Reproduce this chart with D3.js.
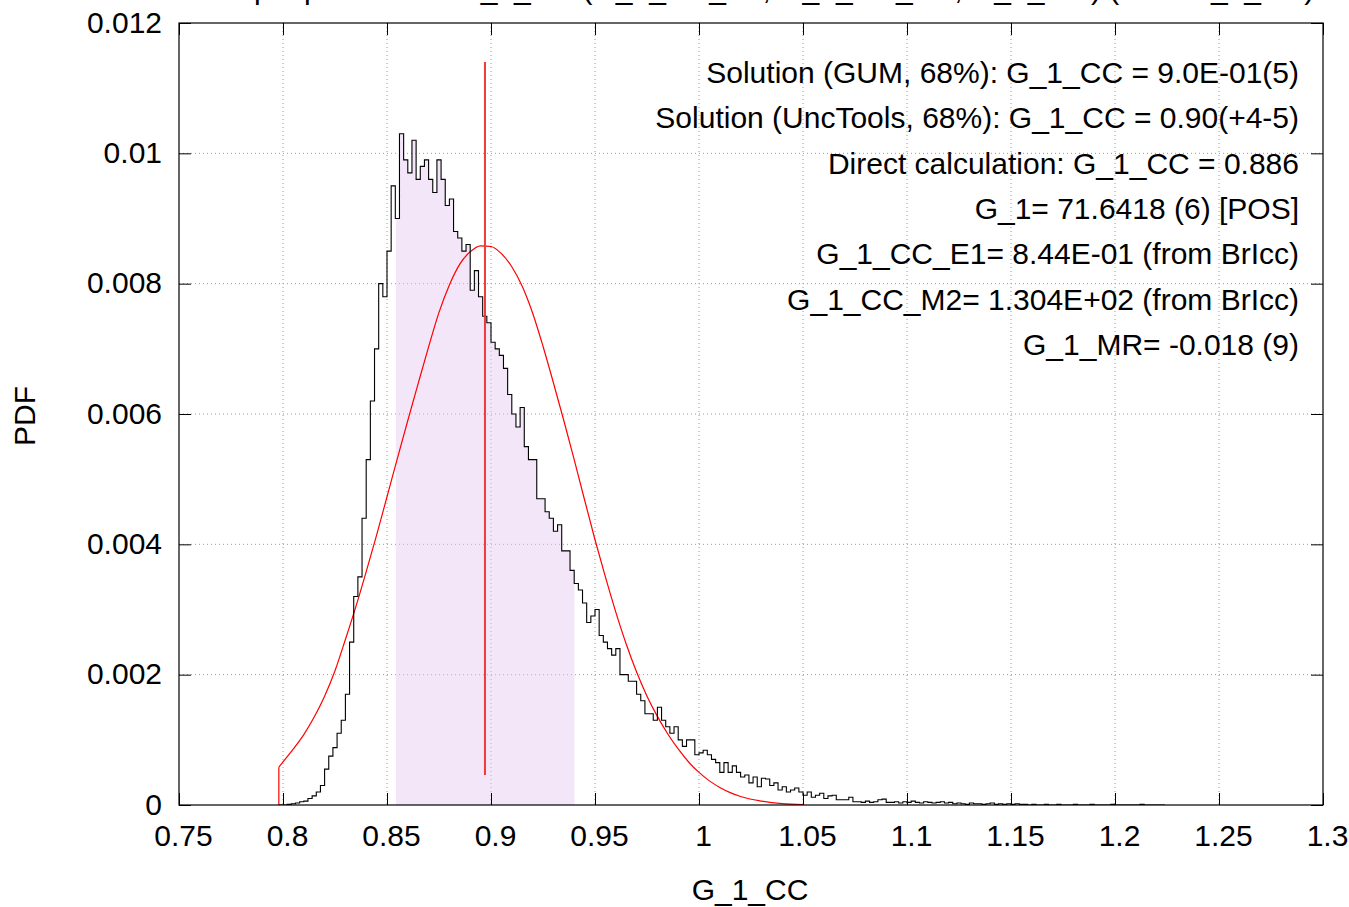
<!DOCTYPE html>
<html>
<head>
<meta charset="utf-8">
<script src="https://cdn.jsdelivr.net/npm/d3@7"></script>
<style>
  html, body { margin: 0; padding: 0; background: #fff; }
  svg { display: block; }
  text { font-family: "Liberation Sans", Arial, sans-serif; fill: #000; }
</style>
</head>
<body>
<svg id="chart" width="1349" height="907"></svg>
<script>
// ---------------- data ----------------
const xTicks = [0.75, 0.8, 0.85, 0.9, 0.95, 1, 1.05, 1.1, 1.15, 1.2, 1.25, 1.3];
const xTickLabels = ["0.75", "0.8", "0.85", "0.9", "0.95", "1", "1.05", "1.1", "1.15", "1.2", "1.25", "1.3"];
const yTicks = [0, 0.002, 0.004, 0.006, 0.008, 0.01, 0.012];
const yTickLabels = ["0", "0.002", "0.004", "0.006", "0.008", "0.01", "0.012"];

// histogram (Monte Carlo PDF), bins starting at histStart, width histBinWidth
const histStart = 0.798;
const histBinWidth = 0.002;
const histValues = [
  0, 0, 0.00001, 0.00002, 0.00003, 0.00005, 0.00006, 0.0001, 0.00014, 0.0002,
  0.0003, 0.00055, 0.00075, 0.00088, 0.0011, 0.0013, 0.0017, 0.0025, 0.0032, 0.0035,
  0.0044, 0.0053, 0.0062, 0.0070, 0.0080, 0.0078, 0.0085, 0.0095, 0.0090, 0.0103,
  0.0099, 0.0097, 0.0102, 0.0096, 0.0098, 0.0099, 0.0096, 0.0094, 0.0099, 0.0096,
  0.0092, 0.0093, 0.0088, 0.0087, 0.0085, 0.0086, 0.0079, 0.0082, 0.0078, 0.0075,
  0.0074, 0.0071, 0.0070, 0.0069, 0.0067, 0.0063, 0.0060, 0.0058, 0.0061, 0.0055,
  0.0053, 0.0053, 0.0047, 0.0047, 0.0045, 0.0044, 0.0042, 0.0043, 0.0039, 0.0039,
  0.0036, 0.0034, 0.0033, 0.0031, 0.0028, 0.0029, 0.0030, 0.0026, 0.0025, 0.0024,
  0.0023, 0.0024, 0.0020, 0.0020, 0.0019, 0.0019, 0.0017, 0.0016, 0.0014, 0.0014,
  0.0013, 0.0015, 0.0013, 0.0012, 0.0011, 0.0012, 0.0010, 0.0009, 0.0010, 0.0010,
  0.00077, 0.0008, 0.00084, 0.00077, 0.0007, 0.00065, 0.0005, 0.00065, 0.0005, 0.0006,
  0.0005, 0.00043, 0.00046, 0.00034, 0.00043, 0.00028, 0.00041, 0.0004, 0.0003, 0.00034,
  0.00023, 0.00028, 0.0002, 0.00023, 0.00026, 0.0002, 0.00015, 0.0002, 0.00012, 0.00015,
  0.00018, 0.0001, 0.00014, 0.00015, 0.00008, 0.00008, 0.00008, 0.00012, 0.00005, 0.00005,
  0.00004, 0.00006, 0.00004, 0.00005, 0.00008, 0.00009, 0.00004, 0.00004, 0.00005, 0.00003,
  0.00005, 0.00004, 0.00006, 0.00004, 0.00003, 0.00005, 0.00004, 0.00003, 0.00004, 0.00005,
  0.00003, 0.00004, 0.00002, 0.00003, 0.00002, 0.00001, 0.00003, 0.00002, 0.00002, 0.00001,
  0.00002, 0.00003, 0.00001, 0.00002, 0.00001, 0.00002, 0.00001, 0.00002, 0.00001, 0.00001,
  0, 0.00001, 0, 0, 0.00001, 0, 0, 0.00001, 0, 0,
  0, 0.00001, 0, 0, 0, 0.00001, 0, 0, 0, 0,
  0.00001, 0, 0, 0, 0, 0, 0, 0.00001, 0, 0,
  0, 0, 0
];

// Gaussian (GUM) curve
const gaussX = [0.798, 0.80, 0.805, 0.81, 0.815, 0.82, 0.825, 0.83, 0.835, 0.84, 0.845, 0.85, 0.855,
  0.86, 0.865, 0.87, 0.875, 0.88, 0.885, 0.89, 0.895, 0.90, 0.905, 0.91, 0.915, 0.92, 0.925, 0.93,
  0.935, 0.94, 0.945, 0.95, 0.955, 0.96, 0.965, 0.97, 0.975, 0.98, 0.985, 0.99, 0.995, 1.00, 1.005,
  1.01, 1.015, 1.02, 1.03, 1.04, 1.05];
const gaussY = [0.00058, 0.00066, 0.00086, 0.00108, 0.00135, 0.00167, 0.00206, 0.00254, 0.00304, 0.00358,
  0.00414, 0.00473, 0.00532, 0.00590, 0.00647, 0.00703, 0.00756, 0.00798, 0.00830, 0.00849, 0.00858,
  0.00857, 0.00846, 0.00826, 0.00796, 0.00755, 0.00704, 0.00648, 0.00590, 0.00530, 0.00468, 0.00407,
  0.00350, 0.00296, 0.00247, 0.00204, 0.00167, 0.00136, 0.00109, 0.00086, 0.00066, 0.00050, 0.00037,
  0.00027, 0.00019, 0.00013, 0.00006, 0.00002, 0.000005];

// 68 % coverage interval (shaded) and value marker
const interval = [0.8543, 0.9401];
const markerX = 0.8971;
const markerY = [0.00046, 0.0114];

const annotations = [
  "Solution (GUM, 68%): G_1_CC = 9.0E-01(5)",
  "Solution (UncTools, 68%): G_1_CC = 0.90(+4-5)",
  "Direct calculation: G_1_CC = 0.886",
  "G_1= 71.6418 (6) [POS]",
  "G_1_CC_E1= 8.44E-01 (from BrIcc)",
  "G_1_CC_M2= 1.304E+02 (from BrIcc)",
  "G_1_MR= -0.018 (9)"
];
const titleText = "Output parameter: G_1_CC (G_1_CC_E1, G_1_CC_M2, G_1_MR) (from G_1_CC)";
const xLabel = "G_1_CC";
const yLabel = "PDF";

// ---------------- layout ----------------
const svg = d3.select("#chart");
const L = 179, R = 1323, T = 23, B = 805;
const x = d3.scaleLinear().domain([0.75, 1.3]).range([L, R]);
const y = d3.scaleLinear().domain([0, 0.012]).range([B, T]);

// histogram points (step after)
const histPts = histValues.map((v, i) => [histStart + i * histBinWidth, v]);
histPts.push([histStart + histValues.length * histBinWidth, histValues[histValues.length - 1]]);

// clip
const defs = svg.append("defs");
defs.append("clipPath").attr("id", "plotclip")
  .append("rect").attr("x", L).attr("y", T).attr("width", R - L).attr("height", B - T);
defs.append("clipPath").attr("id", "intclip")
  .append("rect").attr("x", x(interval[0])).attr("y", T)
  .attr("width", x(interval[1]) - x(interval[0])).attr("height", B - T);

// grid
const grid = svg.append("g");
xTicks.slice(1, -1).forEach(t => {
  grid.append("line").attr("x1", x(t)).attr("x2", x(t)).attr("y1", T).attr("y2", B)
    .attr("stroke", "#999").attr("stroke-width", 1).attr("stroke-dasharray", "1,3");
});
yTicks.slice(1, -1).forEach(t => {
  grid.append("line").attr("x1", L).attr("x2", R).attr("y1", y(t)).attr("y2", y(t))
    .attr("stroke", "#999").attr("stroke-width", 1).attr("stroke-dasharray", "1,3");
});

// shaded coverage area
const area = d3.area().curve(d3.curveStepAfter)
  .x(d => x(d[0])).y0(y(0)).y1(d => y(d[1]));
svg.append("path").datum(histPts).attr("d", area)
  .attr("clip-path", "url(#intclip)")
  .attr("fill", "#e3c8f0").attr("fill-opacity", 0.45).attr("stroke", "none");

// gaussian curve (with its vertical start at the lower end of the range)
svg.append("line").attr("x1", x(gaussX[0])).attr("x2", x(gaussX[0]))
  .attr("y1", y(0)).attr("y2", y(gaussY[0]))
  .attr("stroke", "#ff0000").attr("stroke-width", 1.2);
const gLine = d3.line().x((d, i) => x(gaussX[i])).y(d => y(d)).curve(d3.curveMonotoneX);
svg.append("path").datum(gaussY).attr("d", gLine)
  .attr("fill", "none").attr("stroke", "#ff0000").attr("stroke-width", 1.2)
  .attr("clip-path", "url(#plotclip)");

// histogram
const hLine = d3.line().curve(d3.curveStepAfter).x(d => x(d[0])).y(d => y(d[1]));
svg.append("path").datum(histPts).attr("d", hLine)
  .attr("fill", "none").attr("stroke", "#000").attr("stroke-width", 1.1)
  .attr("clip-path", "url(#plotclip)");

// marker line
svg.append("line").attr("x1", x(markerX)).attr("x2", x(markerX))
  .attr("y1", y(markerY[0])).attr("y2", y(markerY[1]))
  .attr("stroke", "#f03a3a").attr("stroke-width", 2);

// border
svg.append("rect").attr("x", L).attr("y", T).attr("width", R - L).attr("height", B - T)
  .attr("fill", "none").attr("stroke", "#000").attr("stroke-width", 1.2);

// axes with inward ticks (mirrored)
const tickLen = 12;
const fs = 30;
const xAxisB = d3.axisBottom(x).tickValues(xTicks).tickSizeInner(-tickLen).tickSizeOuter(0)
  .tickFormat((d, i) => xTickLabels[i]).tickPadding(tickLen + 8);
const gxb = svg.append("g").attr("transform", `translate(0,${B})`).call(xAxisB);
const xAxisT = d3.axisTop(x).tickValues(xTicks).tickSizeInner(-tickLen).tickSizeOuter(0).tickFormat("");
const gxt = svg.append("g").attr("transform", `translate(0,${T})`).call(xAxisT);
const yAxisL = d3.axisLeft(y).tickValues(yTicks).tickSizeInner(-tickLen).tickSizeOuter(0)
  .tickFormat((d, i) => yTickLabels[i]).tickPadding(tickLen + 5);
const gyl = svg.append("g").attr("transform", `translate(${L},0)`).call(yAxisL);
const yAxisR = d3.axisRight(y).tickValues(yTicks).tickSizeInner(-tickLen).tickSizeOuter(0).tickFormat("");
const gyr = svg.append("g").attr("transform", `translate(${R},0)`).call(yAxisR);
[gxb, gxt, gyl, gyr].forEach(g => {
  g.select(".domain").remove();
  g.selectAll(".tick line").attr("stroke", "#000").attr("stroke-width", 1);
  g.selectAll("text").style("font-family", "'Liberation Sans', Arial, sans-serif")
    .style("font-size", fs + "px").attr("fill", "#000");
});
gxb.selectAll(".tick text").attr("dy", "0.71em").attr("dx", 4);
gyl.selectAll(".tick text").attr("dy", "0.3em");

// axis labels
svg.append("text").attr("x", (L + R) / 2 - 1).attr("y", 900).attr("text-anchor", "middle")
  .style("font-size", fs + "px").text(xLabel);
svg.append("text").attr("transform", "translate(35,416) rotate(-90)").attr("text-anchor", "middle")
  .style("font-size", fs + "px").text(yLabel);

// title (cut off at top of picture, as in the original)
svg.append("text").attr("x", 760).attr("y", -1).attr("text-anchor", "middle")
  .style("font-size", fs + "px").text(titleText);

// annotations
annotations.forEach((s, i) => {
  svg.append("text").attr("x", 1299).attr("y", 83 + i * 45.3).attr("text-anchor", "end")
    .style("font-size", "30px").text(s);
});
</script>
</body>
</html>
